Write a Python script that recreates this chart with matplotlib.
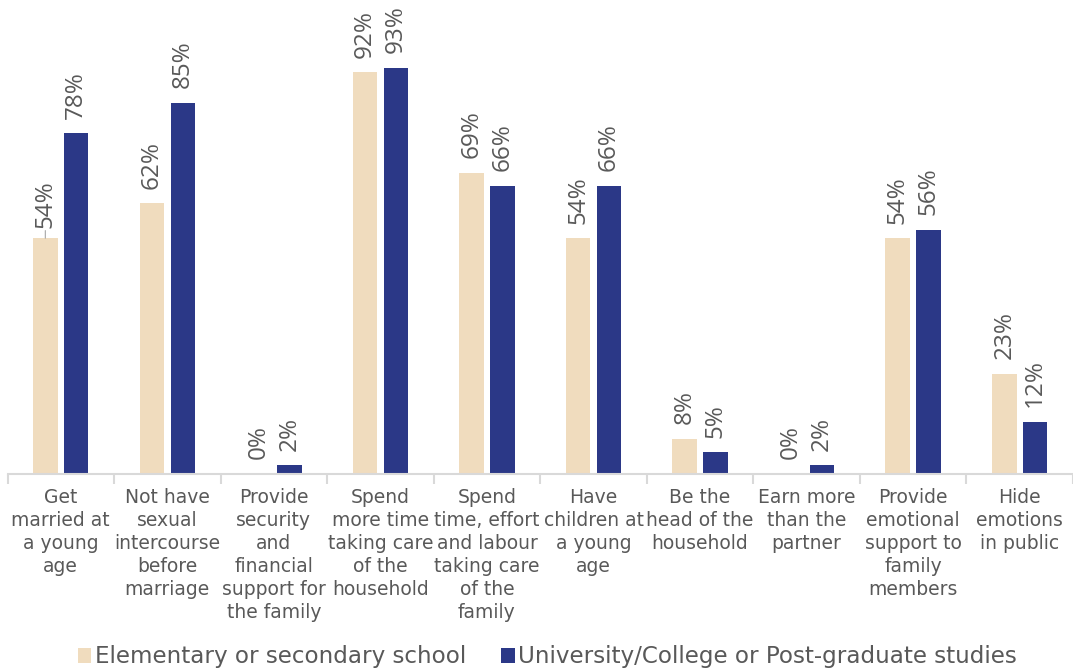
import matplotlib
matplotlib.use("Agg")
import matplotlib.pyplot as plt
from matplotlib.patches import Patch
import numpy as np

categories = [
    "Get\nmarried at\na young\nage",
    "Not have\nsexual\nintercourse\nbefore\nmarriage",
    "Provide\nsecurity\nand\nfinancial\nsupport for\nthe family",
    "Spend\nmore time\ntaking care\nof the\nhousehold",
    "Spend\ntime, effort\nand labour\ntaking care\nof the\nfamily",
    "Have\nchildren at\na young\nage",
    "Be the\nhead of the\nhousehold",
    "Earn more\nthan the\npartner",
    "Provide\nemotional\nsupport to\nfamily\nmembers",
    "Hide\nemotions\nin public",
]
elementary = [54, 62, 0, 92, 69, 54, 8, 0, 54, 23]
university = [78, 85, 2, 93, 66, 66, 5, 2, 56, 12]
series_names = ["Elementary or secondary school",
                "University/College or Post-graduate studies"]

BEIGE = "#F0DCBE"
NAVY = "#2B3887"
TEXT = "#595959"
AXIS = "#D9D9D9"

W, H = 1073, 671
fig = plt.figure(figsize=(W / 100, H / 100), dpi=100)
left_px, base_px = 7.5, 474
ax = fig.add_axes([left_px / W, 1 - base_px / H, 1 - left_px / W, base_px / H])

x = np.arange(len(categories))
bw = 0.23
off = 0.145
b1 = ax.bar(x - off, elementary, bw, color=BEIGE, zorder=2)
b2 = ax.bar(x + off, university, bw, color=NAVY, zorder=2)

step = 107.3
ax.set_xlim(-0.5, -0.5 + (W - left_px) / step)
ax.set_ylim(0, base_px / 4.366)

label_kw = dict(textcoords="offset points", rotation=90, ha="center",
                va="bottom", fontsize=17.5, family="Open Sans", color=TEXT)
for bars, vals in ((b1, elementary), (b2, university)):
    for i, (bar, v) in enumerate(zip(bars, vals)):
        cx = bar.get_x() + bar.get_width() / 2
        if bars is b1 and i == 0:
            # label pulled up a little with a short leader line
            ax.annotate(f"{v}%", xy=(cx, v), xytext=(0, 7.5),
                        arrowprops=dict(arrowstyle="-", color="#A6A6A6",
                                        lw=0.8, shrinkA=0, shrinkB=0),
                        **label_kw)
            continue
        ax.annotate(f"{v}%", xy=(cx, v), xytext=(0, 10.5), **label_kw)

for s in ("top", "right", "left"):
    ax.spines[s].set_visible(False)
ax.spines["bottom"].set_color(AXIS)
ax.spines["bottom"].set_linewidth(1.5)
ax.set_yticks([])
ax.set_xticks(np.arange(-0.5, len(categories), 1.0))
ax.set_xticklabels([])
ax.tick_params(axis="x", length=7, width=1.5, color=AXIS)

for i, label in enumerate(categories):
    ax.text(i, -14 / base_px, label, transform=ax.get_xaxis_transform(),
            ha="center", va="top", fontsize=13.5, color=TEXT,
            linespacing=1.26, family="DejaVu Sans")

handles = [Patch(facecolor=BEIGE), Patch(facecolor=NAVY)]
fig.legend(handles, series_names, loc="center", bbox_to_anchor=(0.51, 1 - 657 / H),
           ncol=2, frameon=False, fontsize=16.6, labelcolor=TEXT,
           handlelength=0.6, handleheight=0.6, handletextpad=0.15,
           columnspacing=1.5, borderaxespad=0)

fig.savefig("out.png", dpi=100, facecolor="white")
